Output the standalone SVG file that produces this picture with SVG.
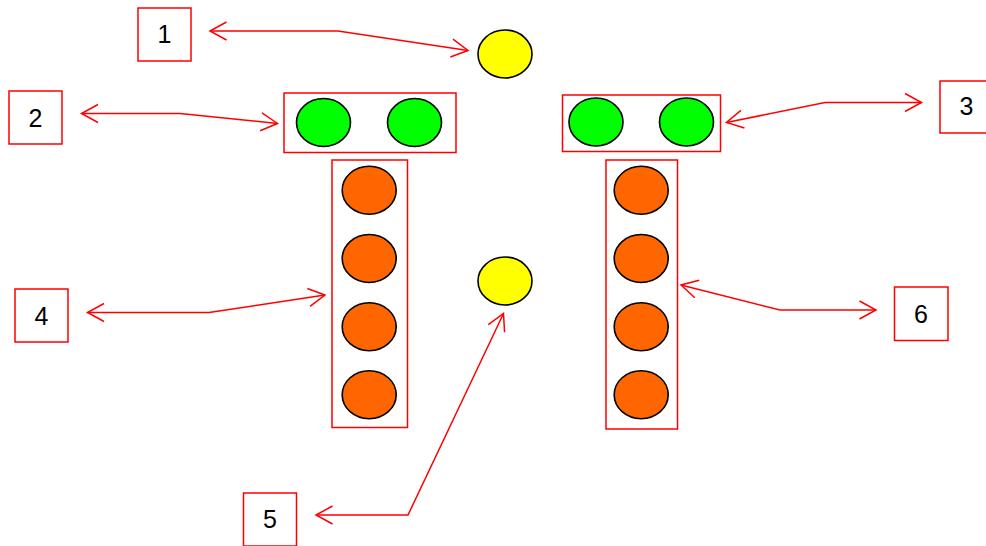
<svg xmlns="http://www.w3.org/2000/svg" width="986" height="546" viewBox="0 0 986 546">
<style>
.box{fill:#fff;stroke:#ff0000;stroke-width:1.5}
.lbl{font-family:"Liberation Sans",Arial,sans-serif;font-size:25px;fill:#000;text-anchor:middle}
.yel{fill:#ffff00;stroke:#000;stroke-width:1.6}
.grn{fill:#00ff00;stroke:#000;stroke-width:1.6}
.org{fill:#ff6600;stroke:#000;stroke-width:1.6}
.con{fill:none;stroke:#ff0000;stroke-width:1.5;marker-start:url(#ah);marker-end:url(#ah)}
</style>
<defs>
<marker id="ah" markerUnits="userSpaceOnUse" markerWidth="40" markerHeight="40" refX="0" refY="0" viewBox="-20 -20 40 40" orient="auto-start-reverse" overflow="visible">
<path d="M-16.5,-9 L0,0 L-16.5,9" fill="none" stroke="#ff0000" stroke-width="1.5"/>
</marker>
</defs>
<rect width="986" height="546" fill="#fff"/>
<g id="connectors">
<polyline class="con" points="210,31 338,31 468,50.5"/>
<polyline class="con" points="81.5,113.5 180,113.5 277.5,123.5"/>
<polyline class="con" points="726.5,122.5 825,102.5 921.5,102.5"/>
<polyline class="con" points="87.5,312.5 209,312.5 325,295"/>
<polyline class="con" points="503.5,313.5 408,515 316,515"/>
<polyline class="con" points="681,285 780,310 876,310"/>
</g>
<g id="label1"><rect class="box" x="138" y="8" width="53" height="53"/><text class="lbl" x="164.5" y="43">1</text></g>
<g id="label2"><rect class="box" x="9" y="91" width="53" height="53"/><text class="lbl" x="35.5" y="127">2</text></g>
<g id="label3"><rect class="box" x="940" y="81" width="53" height="52"/><text class="lbl" x="966.5" y="115">3</text></g>
<g id="label4"><rect class="box" x="15" y="289" width="53" height="53"/><text class="lbl" x="41.5" y="325">4</text></g>
<g id="label5"><rect class="box" x="243.5" y="493" width="53" height="53"/><text class="lbl" x="270" y="528">5</text></g>
<g id="label6"><rect class="box" x="894.5" y="287" width="53.5" height="53.5"/><text class="lbl" x="921" y="323">6</text></g>
<g id="yellow-top"><ellipse class="yel" cx="505" cy="54" rx="27" ry="24"/></g>
<g id="yellow-bottom"><ellipse class="yel" cx="505" cy="281" rx="27" ry="24"/></g>
<g id="green-left">
<rect class="box" x="284" y="93" width="172" height="59.5"/>
<ellipse class="grn" cx="323.5" cy="122.5" rx="27" ry="24"/>
<ellipse class="grn" cx="414.5" cy="122.5" rx="27" ry="24"/>
</g>
<g id="green-right">
<rect class="box" x="562.5" y="95" width="158" height="56.5"/>
<ellipse class="grn" cx="596" cy="122" rx="27" ry="24"/>
<ellipse class="grn" cx="686.5" cy="122" rx="27" ry="24"/>
</g>
<g id="orange-left">
<rect class="box" x="332" y="160" width="75.5" height="267.5"/>
<ellipse class="org" cx="369.2" cy="190.2" rx="27" ry="24"/>
<ellipse class="org" cx="369.2" cy="258.5" rx="27" ry="24"/>
<ellipse class="org" cx="369.2" cy="326.7" rx="27" ry="24"/>
<ellipse class="org" cx="369.2" cy="394.7" rx="27" ry="24"/>
</g>
<g id="orange-right">
<rect class="box" x="606" y="160" width="71.5" height="269"/>
<ellipse class="org" cx="641.2" cy="190.2" rx="27" ry="24"/>
<ellipse class="org" cx="641.2" cy="258.5" rx="27" ry="24"/>
<ellipse class="org" cx="641.2" cy="326.7" rx="27" ry="24"/>
<ellipse class="org" cx="641.2" cy="394.7" rx="27" ry="24"/>
</g>
</svg>
